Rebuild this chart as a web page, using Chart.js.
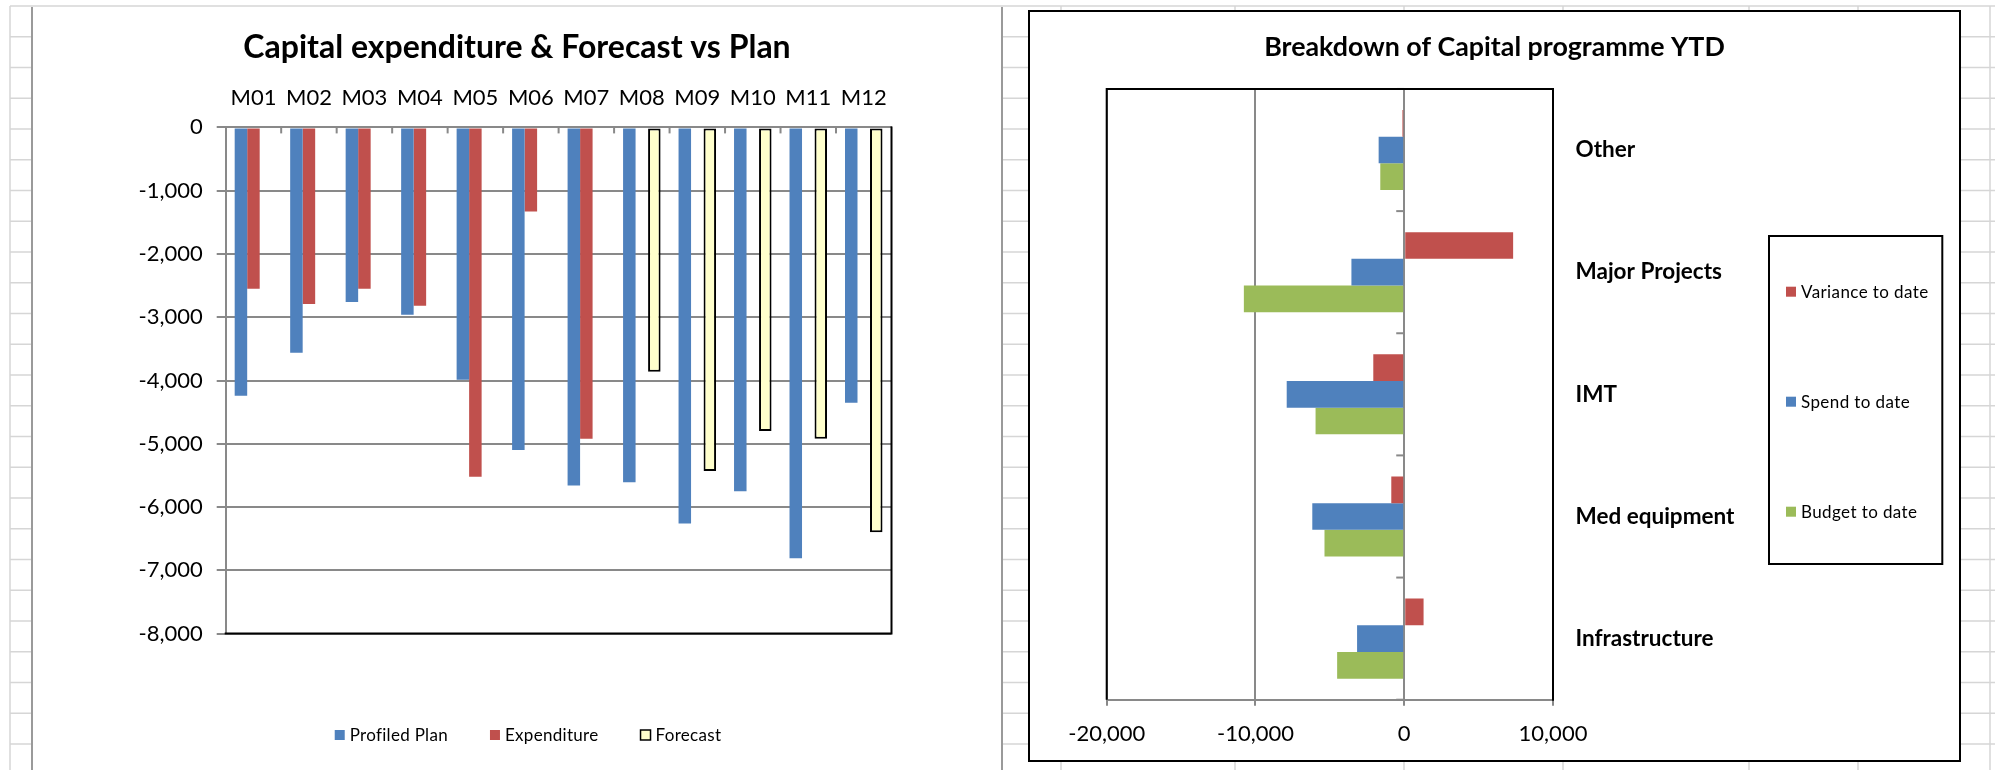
<!DOCTYPE html>
<html>
<head>
<meta charset="utf-8">
<title>Capital programme</title>
<script src="https://cdn.jsdelivr.net/npm/chart.js@4.4.1/dist/chart.umd.min.js"></script>
<style>
  html, body { margin: 0; padding: 0; background: #fff; }
  body { width: 1995px; height: 770px; position: relative; overflow: hidden; }
  #sheet { position: absolute; left: 0; top: 0; }
  #leftBox { position: absolute; left: 31px; top: 7px; width: 968px; height: 763px;
             border-left: 2px solid #9a9a9a; border-right: 2px solid #9a9a9a; background: #fff; }
  #rightBox { position: absolute; left: 1028px; top: 10px; width: 929px; height: 748px;
              border: 2px solid #000; background: #fff; }
  canvas { display: block; }
</style>
</head>
<body>
<canvas id="sheet" width="1995" height="770"></canvas>
<div id="leftBox"><canvas id="monthly" width="968" height="763"></canvas></div>
<div id="rightBox"><canvas id="breakdown" width="929" height="748"></canvas></div>

<script>
// ---- Monthly capital spend (negative = outflow) ----
const months = ['M01', 'M02', 'M03', 'M04', 'M05', 'M06', 'M07', 'M08', 'M09', 'M10', 'M11', 'M12'];
const profiledPlan = [-4240, -3560, -2760, -2960, -3990, -5100, -5660, -5610, -6260, -5750, -6810, -4350];
const expenditure  = [-2550, -2790, -2550, -2820, -5520, -1330, -4920, null, null, null, null, null];
const forecast     = [null, null, null, null, null, null, null, -3860, -5430, -4800, -4920, -6400];
const monthlyTicks = [0, -1000, -2000, -3000, -4000, -5000, -6000, -7000, -8000];

// ---- Year-to-date breakdown by programme area ----
const programmeAreas = ['Other', 'Major Projects', 'IMT', 'Med equipment', 'Infrastructure'];
const varianceToDate = [-120, 7320, -2080, -870, 1300];
const spendToDate    = [-1720, -3550, -7900, -6180, -3170];
const budgetToDate   = [-1610, -10780, -5960, -5360, -4510];
const breakdownTicks = [-20000, -10000, 0, 10000];

const GREY = '#898989';
const FONT = 'Lato, "Open Sans", sans-serif';
Chart.defaults.font.family = FONT;
Chart.defaults.color = '#000';

// worksheet cell grid behind the charts
(function drawSheet() {
  const g = document.getElementById('sheet').getContext('2d');
  g.fillStyle = '#fff';
  g.fillRect(0, 0, 1995, 770);
  g.strokeStyle = '#d6d6d6';
  g.lineWidth = 1.5;
  for (let k = 0; k < 26; k++) {
    const y = 6 + 30.75 * k;
    g.beginPath(); g.moveTo(10, y); g.lineTo(1995, y); g.stroke();
  }
  for (const x of [10, 1061, 1235, 1404, 1563, 1749, 1858, 1990]) {
    g.beginPath(); g.moveTo(x, 6); g.lineTo(x, 770); g.stroke();
  }
})();

const fmt = v => Number(v).toLocaleString('en-US');

// legend drawn as small squares with labels, in a row or a framed column
const sheetLegend = {
  id: 'sheetLegend',
  afterDraw(chart, args, o) {
    const ctx = chart.ctx;
    ctx.save();
    ctx.font = o.size + 'px ' + FONT;
    if ('letterSpacing' in ctx) ctx.letterSpacing = o.letterSpacing || '0px';
    ctx.textBaseline = 'middle';
    ctx.textAlign = 'left';
    const sets = chart.data.datasets;
    const box = 10, gap = 5;
    const drawItem = (ds, x, y) => {
      ctx.fillStyle = ds.backgroundColor;
      ctx.fillRect(x, y - box / 2, box, box);
      if (ds.borderWidth) {
        ctx.strokeStyle = ds.borderColor;
        ctx.lineWidth = 1.5;
        ctx.strokeRect(x, y - box / 2, box, box);
      }
      ctx.fillStyle = '#000';
      ctx.fillText(ds.label, x + box + gap, y + 1);
    };
    if (o.row) {
      const widths = sets.map(ds => box + gap + ctx.measureText(ds.label).width);
      const total = widths.reduce((a, b) => a + b, 0) + o.spacing * (sets.length - 1);
      let x = o.centerX - total / 2;
      sets.forEach((ds, i) => { drawItem(ds, x, o.y); x += widths[i] + o.spacing; });
    } else {
      sets.forEach((ds, i) => drawItem(ds, o.x, o.y + i * o.step));
      if (o.frame) {
        ctx.strokeStyle = '#000';
        ctx.lineWidth = 2;
        ctx.strokeRect(o.frame[0], o.frame[1], o.frame[2], o.frame[3]);
      }
    }
    ctx.restore();
  }
};

// short marks on the zero line between categories
const categoryMarks = {
  id: 'categoryMarks',
  afterDatasetsDraw(chart, args, o) {
    const ctx = chart.ctx;
    const cat = chart.scales[o.catAxis];
    const val = chart.scales[o.valAxis];
    const zero = val.getPixelForValue(0);
    const n = cat.getLabels().length;
    const step = cat.getPixelForValue(1) - cat.getPixelForValue(0);
    ctx.save();
    ctx.strokeStyle = GREY;
    ctx.lineWidth = 2;
    const first = o.withEnds ? 0 : 1, last = o.withEnds ? n : n - 1;
    for (let i = first; i <= last; i++) {
      const p = cat.getPixelForValue(0) + (i - 0.5) * step;
      ctx.beginPath();
      if (o.vertical) { ctx.moveTo(p, zero); ctx.lineTo(p, zero + o.len); }
      else { ctx.moveTo(zero - o.len, p); ctx.lineTo(zero, p); }
      ctx.stroke();
    }
    ctx.restore();
  }
};

// black plot-area frame on the chosen sides
const plotFrame = {
  id: 'plotFrame',
  afterDraw(chart, args, o) {
    const sides = o.sides || [];
    const {left, right, top, bottom} = chart.chartArea;
    const ctx = chart.ctx;
    ctx.save();
    ctx.strokeStyle = '#000';
    ctx.lineWidth = 2;
    ctx.beginPath();
    if (sides.includes('left')) { ctx.moveTo(left, bottom); ctx.lineTo(left, top - 1); }
    if (sides.includes('top')) { ctx.moveTo(left - 1, top); ctx.lineTo(right + 1, top); }
    if (sides.includes('right')) { ctx.moveTo(right, top - 1); ctx.lineTo(right, bottom + 1); }
    if (sides.includes('bottom')) { ctx.moveTo(left - 1, bottom); ctx.lineTo(right + 1, bottom); }
    ctx.stroke();
    ctx.restore();
  }
};

const tickList = values => scale => { scale.ticks = values.map(v => ({value: v})); };
const spacer = (position, size) => ({
  type: 'linear', position, display: true,
  grid: {display: false}, border: {display: false}, ticks: {display: false},
  afterFit(scale) { if (scale.isHorizontal()) scale.height = size; else scale.width = size; }
});

// ---- Capital expenditure & Forecast vs Plan ----
new Chart(document.getElementById('monthly'), {
  type: 'bar',
  data: {
    labels: months,
    datasets: [
      {label: 'Profiled Plan', data: profiledPlan, backgroundColor: '#4F81BD', xAxisID: 'x', yAxisID: 'y'},
      {label: 'Expenditure', data: expenditure, backgroundColor: '#C0504D', xAxisID: 'x', yAxisID: 'y'},
      {label: 'Forecast', data: forecast, backgroundColor: '#FFFFCC', borderColor: '#000', borderWidth: 2,
       borderSkipped: false, xAxisID: 'x', yAxisID: 'y'}
    ]
  },
  options: {
    responsive: false,
    animation: false,
    devicePixelRatio: 1,
    layout: {padding: {left: 0, right: 0, top: 0, bottom: 136.4}},
    datasets: {bar: {categoryPercentage: 0.676, barPercentage: 1}},
    plugins: {
      legend: {display: false},
      tooltip: {enabled: false},
      title: {
        display: true,
        text: 'Capital expenditure & Forecast vs Plan',
        color: '#000',
        font: {family: FONT, size: 32, weight: 'bold', lineHeight: 1.2},
        padding: {top: 21, bottom: 0}
      },
      sheetLegend: {row: true, size: 17, letterSpacing: '0.3px', centerX: 495, y: 728, spacing: 42},
      categoryMarks: {catAxis: 'x', valAxis: 'y', vertical: true, len: 6, withEnds: false},
      plotFrame: {sides: ['right', 'bottom']}
    },
    scales: {
      x: {
        type: 'category', position: 'top',
        grid: {display: false, drawTicks: false},
        border: {display: true, color: GREY, width: 2},
        ticks: {color: '#000', font: {size: 22}, padding: 16, maxRotation: 0, autoSkip: false},
        afterFit(scale) { scale.height = 61; }
      },
      y: {
        type: 'linear', position: 'left',
        min: Math.min(...monthlyTicks), max: Math.max(...monthlyTicks),
        afterBuildTicks: tickList(monthlyTicks),
        grid: {color: GREY, lineWidth: 2, drawTicks: true, tickLength: 9, tickColor: GREY},
        border: {color: GREY, width: 2},
        ticks: {color: '#000', font: {size: 22}, padding: 14, callback: fmt},
        afterFit(scale) { scale.width = 192.7; }
      },
      padRight: spacer('right', 109.5)
    }
  },
  plugins: [sheetLegend, categoryMarks, plotFrame]
});

// ---- Breakdown of Capital programme YTD ----
new Chart(document.getElementById('breakdown'), {
  type: 'bar',
  data: {
    labels: programmeAreas,
    datasets: [
      {label: 'Variance to date', data: varianceToDate, backgroundColor: '#C0504D', xAxisID: 'x', yAxisID: 'y'},
      {label: 'Spend to date', data: spendToDate, backgroundColor: '#4F81BD', xAxisID: 'x', yAxisID: 'y'},
      {label: 'Budget to date', data: budgetToDate, backgroundColor: '#9BBB59', xAxisID: 'x', yAxisID: 'y'}
    ]
  },
  options: {
    indexAxis: 'y',
    responsive: false,
    animation: false,
    devicePixelRatio: 1,
    layout: {padding: 0},
    datasets: {bar: {categoryPercentage: 0.655, barPercentage: 1}},
    plugins: {
      legend: {display: false},
      tooltip: {enabled: false},
      title: {
        display: true,
        text: 'Breakdown of Capital programme YTD',
        color: '#000',
        font: {family: FONT, size: 26.8, weight: 'bold', lineHeight: 1.2},
        padding: {top: 19.3, bottom: 25.5}
      },
      sheetLegend: {row: false, size: 17, letterSpacing: '0.4px', x: 756, y: 279.7, step: 110,
                    frame: [739, 224, 173.3, 328]},
      categoryMarks: {catAxis: 'y', valAxis: 'x', vertical: false, len: 8, withEnds: true},
      plotFrame: {sides: ['left', 'top', 'right']}
    },
    scales: {
      x: {
        type: 'linear', position: 'bottom',
        min: Math.min(...breakdownTicks), max: Math.max(...breakdownTicks),
        afterBuildTicks: tickList(breakdownTicks),
        grid: {color: GREY, lineWidth: 2, drawTicks: true, tickLength: 6, tickColor: GREY},
        border: {color: GREY, width: 2},
        ticks: {color: '#000', font: {size: 22}, padding: 14.7, callback: fmt},
        afterFit(scale) { scale.height = 60.3; }
      },
      y: {
        type: 'category', position: 'right',
        grid: {display: false, drawTicks: false},
        border: {display: false},
        ticks: {color: '#000', font: {size: 22.5, weight: 'bold'}, padding: 22.5, autoSkip: false},
        afterFit(scale) { scale.width = 406; }
      },
      padLeft: spacer('left', 76.7)
    }
  },
  plugins: [sheetLegend, categoryMarks, plotFrame]
});
</script>
</body>
</html>
